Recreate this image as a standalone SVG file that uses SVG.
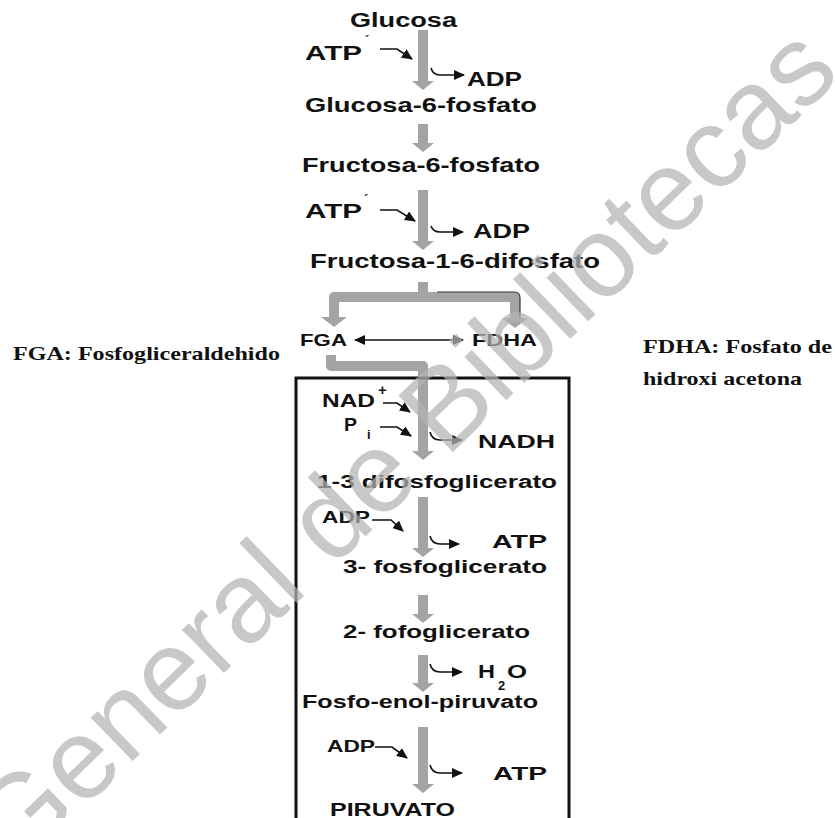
<svg xmlns="http://www.w3.org/2000/svg" width="835" height="818" viewBox="0 0 835 818">
<defs>
<style>
.t{font-family:"Liberation Sans",Arial,sans-serif;font-weight:bold;fill:#111;}
.s{font-family:"Liberation Serif","Times New Roman",serif;font-weight:bold;fill:#111;}
.g{fill:#a4a4a4;}
.gs{fill:none;stroke:#a4a4a4;stroke-width:10;stroke-linejoin:round;}
.b{fill:none;stroke:#111;stroke-width:1.6;}
.wm{font-family:"Liberation Sans",Arial,sans-serif;font-size:114px;fill:#b4b4b4;opacity:0.72;}
</style>
<marker id="ah" markerWidth="11" markerHeight="10" refX="10" refY="5" orient="auto" markerUnits="userSpaceOnUse"><path d="M0,0 L11,5 L0,10 z" fill="#111"/></marker>
<marker id="ahs" markerWidth="11" markerHeight="10" refX="1" refY="5" orient="auto" markerUnits="userSpaceOnUse"><path d="M11,0 L0,5 L11,10 z" fill="#111"/></marker>
</defs>
<rect width="835" height="818" fill="#fff"/>

<g id="connectors">
<polygon class="g" points="418,30 428,30 428,81 434,81 423,90 412,81 418,81"/>
<polygon class="g" points="418,124 428,124 428,143 434,143 423,152 412,143 418,143"/>
<polygon class="g" points="418,190 428,190 428,241 434,241 423,250 412,241 418,241"/>
<path class="gs" d="M423,282 L423,297 M334,318 L334,297 L515,297 L515,318"/>
<path d="M417,293 Q423,284 429,293" fill="#a4a4a4"/>
<path d="M437,292 L514,292 Q520,292 520,298 L520,318" fill="none" stroke="#333" stroke-width="1.2"/>
<polygon class="g" points="321,317 347,317 334,327"/>
<polygon class="g" points="502,318 528,318 515,328"/>
<path class="gs" d="M331,355 L331,366 L423,366 L423,452" stroke="#acacac"/>
<polygon class="g" points="412,451 434,451 423,460"/>
<polygon class="g" points="418,497 428,497 428,548 434,548 423,557 412,548 418,548"/>
<polygon class="g" points="418,595 428,595 428,614 434,614 423,623 412,614 418,614"/>
<polygon class="g" points="418,655 428,655 428,683 434,683 423,692 412,683 418,683"/>
<polygon class="g" points="418,727 428,727 428,784 434,784 423,793 412,784 418,784"/>
<path class="b" d="M380,49 H397 L412,59" marker-end="url(#ah)"/>
<path class="b" d="M431,68 Q433,75 440,75 H464" marker-end="url(#ah)"/>
<path class="b" d="M380,210 H397 L415,221" marker-end="url(#ah)"/>
<path class="b" d="M431,226 Q433,232 440,232 H463" marker-end="url(#ah)"/>
<path class="b" d="M355,340 H463" marker-start="url(#ahs)" marker-end="url(#ah)"/>
<path class="b" d="M383,403 H397 L410,412" marker-end="url(#ah)"/>
<path class="b" d="M380,427 H397 L411,436" marker-end="url(#ah)"/>
<path class="b" d="M430,432 Q432,440 440,440 H462" marker-end="url(#ah)"/>
<path class="b" d="M372,520 H391 L403,531" marker-end="url(#ah)"/>
<path class="b" d="M430,536 Q432,544 440,544 H459" marker-end="url(#ah)"/>
<path class="b" d="M430,664 Q432,672 440,672 H462" marker-end="url(#ah)"/>
<path class="b" d="M375,747 H392 L407,758" marker-end="url(#ah)"/>
<path class="b" d="M430,765 Q432,773 440,773 H462" marker-end="url(#ah)"/>
</g>

<g id="box"><rect x="296" y="378" width="273" height="470" fill="none" stroke="#111" stroke-width="3"/></g>

<g id="glucosa"><text class="t" x="350" y="27" font-size="20" textLength="107" lengthAdjust="spacingAndGlyphs">Glucosa</text></g>
<g id="atp1"><text class="t" x="305" y="60" font-size="20" textLength="57" lengthAdjust="spacingAndGlyphs">ATP</text><text class="t" x="365" y="45" font-size="13">´</text></g>
<g id="adp1"><text class="t" x="467" y="86" font-size="20" textLength="55" lengthAdjust="spacingAndGlyphs">ADP</text></g>
<g id="g6p"><text class="t" x="305" y="112" font-size="21" textLength="232" lengthAdjust="spacingAndGlyphs">Glucosa-6-fosfato</text></g>
<g id="f6p"><text class="t" x="302" y="172" font-size="21" textLength="238" lengthAdjust="spacingAndGlyphs">Fructosa-6-fosfato</text></g>
<g id="atp2"><text class="t" x="305" y="218" font-size="20" textLength="57" lengthAdjust="spacingAndGlyphs">ATP</text><text class="t" x="364" y="204" font-size="13">´</text></g>
<g id="adp2"><text class="t" x="473" y="238" font-size="20" textLength="57" lengthAdjust="spacingAndGlyphs">ADP</text></g>
<g id="f16dp"><text class="t" x="310" y="268" font-size="20" textLength="290" lengthAdjust="spacingAndGlyphs">Fructosa-1-6-difosfato</text></g>
<g id="fga"><text class="t" x="300" y="346" font-size="17" textLength="47" lengthAdjust="spacingAndGlyphs">FGA</text></g>
<g id="fdha"><text class="t" x="472" y="346" font-size="17" textLength="65" lengthAdjust="spacingAndGlyphs">FDHA</text></g>
<g id="legend-fga"><text class="s" x="13" y="360" font-size="19" textLength="267" lengthAdjust="spacingAndGlyphs">FGA: Fosfogliceraldehido</text></g>
<g id="legend-fdha"><text class="s" x="643" y="353" font-size="19" textLength="189" lengthAdjust="spacingAndGlyphs">FDHA: Fosfato de</text><text class="s" x="643" y="385" font-size="19" textLength="159" lengthAdjust="spacingAndGlyphs">hidroxi acetona</text></g>
<g id="nad"><text class="t" x="322" y="407" font-size="18" textLength="53" lengthAdjust="spacingAndGlyphs">NAD</text><text class="t" x="378" y="395" font-size="15">+</text></g>
<g id="pi"><text class="t" x="344" y="431" font-size="18" textLength="13" lengthAdjust="spacingAndGlyphs">P</text><text class="t" x="367" y="439" font-size="13">i</text></g>
<g id="nadh"><text class="t" x="478" y="448" font-size="19" textLength="77" lengthAdjust="spacingAndGlyphs">NADH</text></g>
<g id="bpg13"><text class="t" x="317" y="488" font-size="18" textLength="240" lengthAdjust="spacingAndGlyphs">1-3 difosfoglicerato</text></g>
<g id="adp3"><text class="t" x="322" y="523" font-size="17" textLength="48" lengthAdjust="spacingAndGlyphs">ADP</text></g>
<g id="atp3"><text class="t" x="492" y="548" font-size="19" textLength="55" lengthAdjust="spacingAndGlyphs">ATP</text></g>
<g id="pg3"><text class="t" x="343" y="573" font-size="18" textLength="204" lengthAdjust="spacingAndGlyphs">3- fosfoglicerato</text></g>
<g id="pg2"><text class="t" x="343" y="638" font-size="18" textLength="187" lengthAdjust="spacingAndGlyphs">2- fofoglicerato</text></g>
<g id="h2o"><text class="t" x="478" y="678" font-size="19" textLength="17" lengthAdjust="spacingAndGlyphs">H</text><text class="t" x="498" y="690" font-size="13">2</text><text class="t" x="507" y="678" font-size="19" textLength="20" lengthAdjust="spacingAndGlyphs">O</text></g>
<g id="pep"><text class="t" x="302" y="708" font-size="18" textLength="236" lengthAdjust="spacingAndGlyphs">Fosfo-enol-piruvato</text></g>
<g id="adp4"><text class="t" x="327" y="752" font-size="17" textLength="48" lengthAdjust="spacingAndGlyphs">ADP</text></g>
<g id="atp4"><text class="t" x="493" y="780" font-size="19" textLength="54" lengthAdjust="spacingAndGlyphs">ATP</text></g>
<g id="piruvato"><text class="t" x="330" y="816" font-size="18" textLength="125" lengthAdjust="spacingAndGlyphs">PIRUVATO</text></g>

<g id="watermark"><text class="wm" x="410" y="482" text-anchor="middle" transform="rotate(-44 410 453)">General de Bibliotecas</text></g>
</svg>
